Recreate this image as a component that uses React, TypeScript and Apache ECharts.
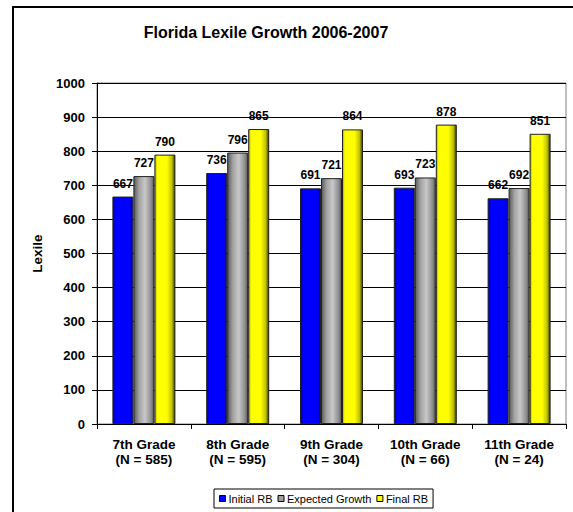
import React, { useEffect, useRef } from "react";
import * as echarts from "echarts";

const categories = [
  "7th Grade\n(N = 585)",
  "8th Grade\n(N = 595)",
  "9th Grade\n(N = 304)",
  "10th Grade\n(N = 66)",
  "11th Grade\n(N = 24)",
];
const initialRB = [667, 736, 691, 693, 662];
const expectedGrowth = [727, 796, 721, 723, 692];
const finalRB = [790, 865, 864, 878, 851];
const seriesNames = ["Initial RB", "Expected Growth", "Final RB"];
const yTicks = { min: 0, max: 1000, interval: 100 };

const FONT = 'Arial, "Liberation Sans", sans-serif';

const grad = (stops: [number, string][]) =>
  new echarts.graphic.LinearGradient(
    0, 0, 1, 0,
    stops.map(([offset, color]) => ({ offset, color }))
  );

export default function App() {
  const ref = useRef<HTMLDivElement>(null);
  useEffect(() => {
    if (!ref.current) return;
    const chart = echarts.init(ref.current, undefined, { renderer: "svg" });
    const fills = [
      grad([[0, "#0000a8"], [0.15, "#0000ff"], [0.8, "#0000ff"], [1, "#0000c0"]]),
      grad([[0, "#5a5a5a"], [0.25, "#a0a0a0"], [0.55, "#c8c8c8"], [0.85, "#909090"], [1, "#5a5a5a"]]),
      grad([[0, "#a8a800"], [0.12, "#ffff00"], [0.6, "#ffff00"], [0.85, "#c0c000"], [1, "#3a3a00"]]),
    ];
    const legendColors = ["#0000ff", "#a0a0a0", "#ffff00"];
    const dataSets = [initialRB, expectedGrowth, finalRB];
    chart.setOption({
      animation: false,
      backgroundColor: "#ffffff",
      title: {
        text: "Florida Lexile Growth 2006-2007",
        left: 266,
        top: 24,
        padding: 0,
        textAlign: "center",
        textStyle: { fontFamily: FONT, fontSize: 16, fontWeight: "bold", color: "#000" },
      },
      graphic: [
        {
          type: "rect",
          shape: { x: 13, y: 7, width: 640, height: 600 },
          style: { fill: "none", stroke: "#000", lineWidth: 2 },
          z: 100,
        },
      ],
      legend: {
        left: 214,
        top: 489,
        orient: "horizontal",
        borderColor: "#000",
        borderWidth: 1,
        padding: [4, 5, 4, 5],
        itemWidth: 6,
        itemHeight: 6,
        itemGap: 5,
        icon: "rect",
        textStyle: { fontFamily: FONT, fontSize: 11, color: "#000", padding: [0, 0, 0, -2] },
        data: seriesNames.map((n, i) => ({
          name: n,
          itemStyle: { color: legendColors[i], borderColor: "#000", borderWidth: 1 },
        })),
      },
      grid: {
        left: 97,
        right: 7,
        top: 83,
        bottom: 88,
        show: true,
        borderColor: "#808080",
        borderWidth: 1,
        backgroundColor: "#ffffff",
      },
      xAxis: {
        type: "category",
        data: categories,
        axisLine: { show: true, lineStyle: { color: "#000", width: 1 } },
        axisTick: { show: true, length: 5, lineStyle: { color: "#000" } },
        axisLabel: {
          fontFamily: FONT,
          fontSize: 13.5,
          fontWeight: "bold",
          color: "#000",
          margin: 13,
          lineHeight: 15,
        },
      },
      yAxis: {
        type: "value",
        min: yTicks.min,
        max: yTicks.max,
        interval: yTicks.interval,
        name: "Lexile",
        nameLocation: "middle",
        nameRotate: 90,
        nameGap: 53,
        nameTextStyle: { fontFamily: FONT, fontSize: 13.5, fontWeight: "bold", color: "#000" },
        axisLine: { show: true, lineStyle: { color: "#000", width: 1 } },
        axisTick: { show: true, length: 5, lineStyle: { color: "#000" } },
        axisLabel: {
          fontFamily: FONT,
          fontSize: 13,
          fontWeight: "bold",
          color: "#000",
          margin: 12,
          formatter: (v: number) => String(v),
        },
        splitLine: { show: true, lineStyle: { color: "#000", width: 1 } },
      },
      series: dataSets.map((d, i) => ({
        name: seriesNames[i],
        type: "bar",
        data: d,
        barWidth: 21,
        barGap: "0%",
        itemStyle: { color: fills[i], borderColor: "#222", borderWidth: 1 },
        label: {
          show: true,
          position: "top",
          distance: 7,
          fontFamily: FONT,
          fontSize: 12,
          fontWeight: "bold",
          color: "#000",
        },
      })),
    });
    return () => chart.dispose();
  }, []);
  return (
    <div
      ref={ref}
      style={{ position: "absolute", left: 0, top: 0, width: 573, height: 512 }}
    />
  );
}
